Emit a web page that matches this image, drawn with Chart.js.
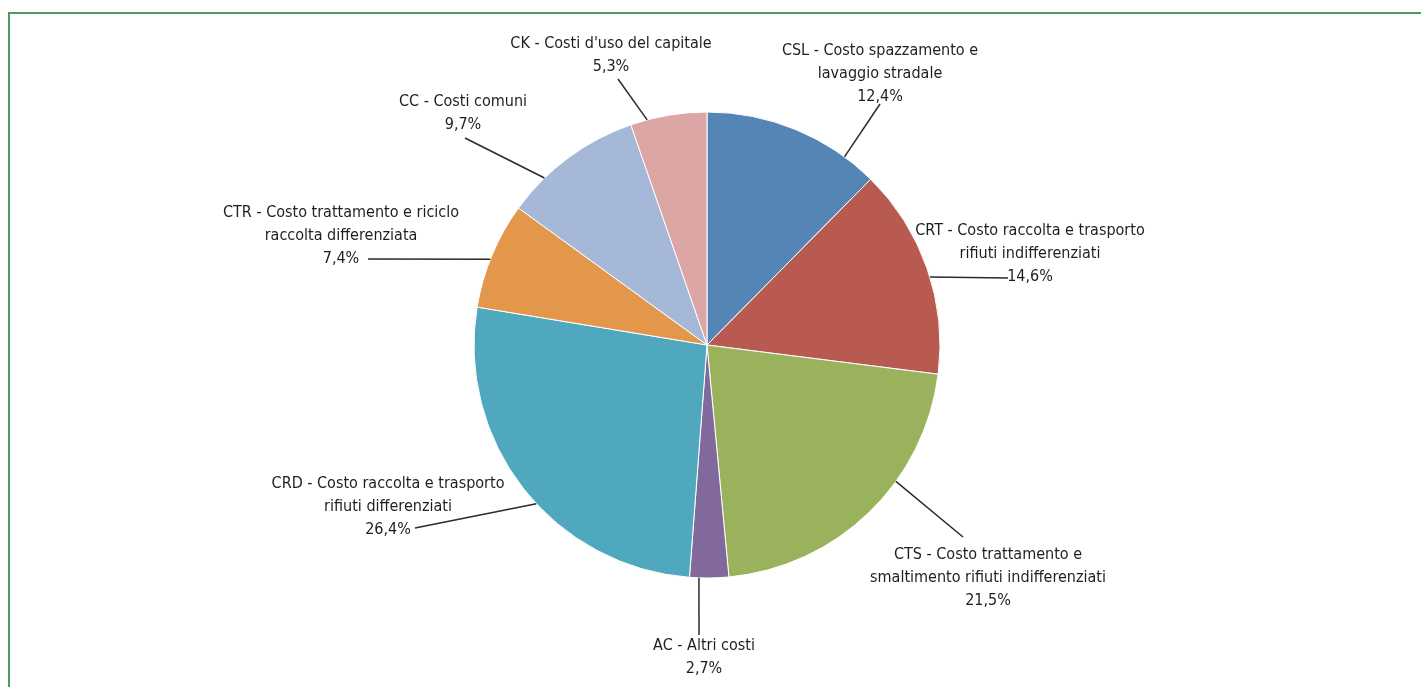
<!DOCTYPE html>
<html>
<head>
<meta charset="utf-8">
<script src="https://cdn.jsdelivr.net/npm/chart.js@4.4.1/dist/chart.umd.min.js"></script>
<style>
  html, body { margin: 0; padding: 0; background: #fff; overflow: hidden; }
  #wrap { position: relative; width: 1421px; height: 687px; }
  #frame {
    position: absolute; left: 8px; top: 12px; width: 1500px; height: 800px;
    border-left: 2px solid #4e9a61; border-top: 2px solid #4e9a61;
  }
  canvas { position: absolute; left: 0; top: 0; }
</style>
</head>
<body>
<div id="wrap">
  <div id="frame"></div>
  <canvas id="pie-chart" width="1421" height="687"></canvas>
</div>
<script>
// cost categories, clockwise from 12 o'clock
const categories = ["CSL", "CRT", "CTS", "AC", "CRD", "CTR", "CC", "CK"];
const labelLines = [
    ["CSL - Costo spazzamento e", "lavaggio stradale"],
    ["CRT - Costo raccolta e trasporto", "rifiuti indifferenziati"],
    ["CTS - Costo trattamento e", "smaltimento rifiuti indifferenziati"],
    ["AC - Altri costi"],
    ["CRD - Costo raccolta e trasporto", "rifiuti differenziati"],
    ["CTR - Costo trattamento e riciclo", "raccolta differenziata"],
    ["CC - Costi comuni"],
    ["CK - Costi d'uso del capitale"]
];
const shares = [12.4, 14.6, 21.5, 2.7, 26.4, 7.4, 9.7, 5.3];
const colors = ["#5585b5", "#b85a50", "#9bb25d", "#82699c", "#4fa8bd", "#e3974b", "#a5b8d8", "#dca6a4"];

// where each label sits, relative to the pie centre
// at: fraction along the slice where the leader touches the rim
// tx,ty: centre of first text line; lx,ly: outer end of leader
const labelLayout = [
    {at: 0.81, tx: 173, ty: -294, lx: 173, ly: -241},
    {at: 0.54, tx: 323, ty: -114, lx: 301, ly: -67},
    {at: 0.37, tx: 281, ty: 210, lx: 256, ly: 192},
    {at: 0.76, tx: -3, ty: 301, lx: -8, ly: 290},
    {at: 0.45, tx: -319, ty: 139, lx: -292, ly: 183},
    {at: 0.46, tx: -366, ty: -132, lx: -339, ly: -86},
    {at: 0.28, tx: -244, ty: -243, lx: -242, ly: -207},
    {at: 0.22, tx: -96, ty: -301, lx: -89, ly: -266}
];

const LINE_H = 23;

const leaderLabels = {
    id: "leaderLabels",
    afterDatasetsDraw(chart) {
        const ctx = chart.ctx;
        const arcs = chart.getDatasetMeta(0).data;
        ctx.save();
        arcs.forEach(function (arc, i) {
            const p = arc.getProps(["x", "y", "startAngle", "endAngle", "outerRadius"], true);
            const lay = labelLayout[i];
            const a = p.startAngle + lay.at * (p.endAngle - p.startAngle);
            const sx = p.x + p.outerRadius * Math.cos(a);
            const sy = p.y + p.outerRadius * Math.sin(a);

            ctx.strokeStyle = "#2b2b2b";
            ctx.lineWidth = 1.5;
            ctx.beginPath();
            ctx.moveTo(sx, sy);
            ctx.lineTo(p.x + lay.lx, p.y + lay.ly);
            ctx.stroke();

            const lines = labelLines[i].concat([shares[i].toFixed(1).replace(".", ",") + "%"]);
            ctx.fillStyle = "#1e1e1e";
            ctx.font = "16px 'Liberation Sans Narrow', 'DejaVu Sans Condensed', sans-serif";
            ctx.textAlign = "center";
            ctx.textBaseline = "middle";
            lines.forEach(function (t, k) {
                ctx.fillText(t, p.x + lay.tx, p.y + lay.ty + k * LINE_H);
            });
        });
        ctx.restore();
    }
};

new Chart(document.getElementById("pie-chart"), {
    type: "pie",
    data: {
        labels: categories,
        datasets: [{
            data: shares,
            backgroundColor: colors,
            borderColor: "#ffffff",
            borderWidth: 1
        }]
    },
    options: {
        responsive: false,
        animation: false,
        radius: 233,
        layout: {
            padding: {left: 467, right: 474, top: 105, bottom: 102}
        },
        plugins: {
            legend: {display: false},
            tooltip: {enabled: false}
        }
    },
    plugins: [leaderLabels]
});
</script>
</body>
</html>
